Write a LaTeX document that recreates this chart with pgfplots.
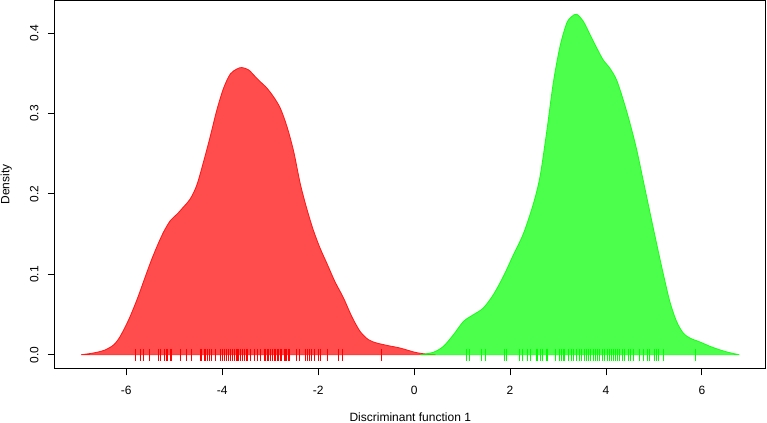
\documentclass[border=0pt]{standalone}
\usepackage{pgfplots}
\pgfplotsset{compat=1.18}
\usepackage{fontspec}
\setmainfont{Liberation Sans}
\begin{document}
\begin{tikzpicture}
\begin{axis}[name=ax,
  scale only axis, width=532.9pt, height=275.7pt,
  xmin=-7.485, xmax=7.325, ymin=-0.0169, ymax=0.4406,
  axis line style={line width=0.75pt, black},
  xtick={-6,-4,-2,0,2,4,6}, xticklabels={-6,-4,-2,0,2,4,6},
  ytick={0,0.1,0.2,0.3,0.4}, yticklabels={0.0,0.1,0.2,0.3,0.4},
  tick align=outside, major tick length=5.25pt,
  tick style={line width=0.75pt, black},
  xtick pos=left, ytick pos=left,
  font=\fontsize{9}{10}\selectfont,
  xticklabel style={yshift=-14.25pt, anchor=base},
  yticklabel style={xshift=-7.25pt, rotate=90, anchor=base},
  every axis x label/.style={at={(axis description cs:0.5,0)}, yshift=-39.8pt, anchor=base},
  every axis y label/.style={at={(axis description cs:0,0.5)}, xshift=-34.3pt, rotate=90, anchor=base},
  xlabel={Discriminant function 1}, ylabel={Density},
]
\addplot[smooth, draw=red, draw opacity=0.85, line width=0.6pt, fill=red, fill opacity=0.7] coordinates {
(-6.94,0) (-6.75,0.0015) (-6.60,0.0032) (-6.44,0.006) (-6.26,0.0124) (-6.125,0.023)
(-5.95,0.0435) (-5.78,0.068) (-5.64,0.091) (-5.50,0.114) (-5.36,0.1347) (-5.22,0.153)
(-5.08,0.167) (-4.94,0.175) (-4.81,0.1837) (-4.67,0.1936) (-4.53,0.211) (-4.39,0.240)
(-4.25,0.2715) (-4.11,0.305) (-3.97,0.332) (-3.83,0.3495) (-3.69,0.3557) (-3.59,0.3574)
(-3.45,0.3545) (-3.31,0.346) (-3.21,0.340) (-3.07,0.332) (-2.93,0.321) (-2.79,0.307)
(-2.65,0.284) (-2.51,0.253) (-2.375,0.2135) (-2.24,0.1825) (-2.10,0.155) (-1.96,0.1327)
(-1.82,0.114) (-1.65,0.091) (-1.47,0.0705) (-1.30,0.0477) (-1.125,0.029) (-0.95,0.0187)
(-0.78,0.0146) (-0.53,0.0112) (-0.29,0.0083) (0.0,0.0033) (0.16,0.0015) (0.30,0.0005) (0.45,0)
} \closedcycle;
\addplot[smooth, draw=green, draw opacity=0.85, line width=0.6pt, fill=green, fill opacity=0.7] coordinates {
(0.13,0) (0.40,0.003) (0.61,0.0104) (0.82,0.0249) (1.03,0.0415) (1.235,0.0498)
(1.44,0.058) (1.65,0.0746) (1.86,0.0974) (2.07,0.1244) (2.28,0.151) (2.49,0.1887)
(2.625,0.222) (2.76,0.276) (2.90,0.338) (3.04,0.3835) (3.18,0.4125) (3.285,0.4208)
(3.39,0.4237) (3.53,0.4146) (3.67,0.398) (3.81,0.3814) (3.94,0.367) (4.08,0.3566)
(4.22,0.342) (4.36,0.317) (4.50,0.288) (4.64,0.255) (4.78,0.2156) (4.92,0.176)
(5.06,0.1368) (5.19,0.1016) (5.33,0.0663) (5.47,0.0415) (5.61,0.027) (5.75,0.0207)
(5.96,0.0158) (6.17,0.0104) (6.375,0.006) (6.58,0.0025) (6.78,0)
} \closedcycle;
\addplot[only marks, mark=|, mark size=4.4pt, red, mark options={line width=0.7pt}] coordinates {
(-5.806,0) (-5.708,0) (-5.639,0) (-5.514,0) (-5.326,0) (-5.292,0) (-5.202,0) (-5.167,0)
(-5.131,0) (-5.083,0) (-5.048,0) (-4.860,0) (-4.750,0) (-4.632,0) (-4.458,0) (-4.423,0)
(-4.375,0) (-4.340,0) (-4.298,0) (-4.264,0) (-4.229,0) (-4.139,0) (-4.042,0) (-3.993,0)
(-3.951,0) (-3.903,0) (-3.868,0) (-3.819,0) (-3.792,0) (-3.750,0) (-3.708,0) (-3.681,0)
(-3.653,0) (-3.625,0) (-3.583,0) (-3.528,0) (-3.493,0) (-3.472,0) (-3.403,0) (-3.333,0)
(-3.264,0) (-3.208,0) (-3.125,0) (-3.097,0) (-3.056,0) (-3.028,0) (-2.986,0) (-2.958,0)
(-2.917,0) (-2.889,0) (-2.847,0) (-2.819,0) (-2.792,0) (-2.764,0) (-2.708,0) (-2.681,0)
(-2.653,0) (-2.625,0) (-2.597,0) (-2.451,0) (-2.382,0) (-2.264,0) (-2.222,0) (-2.181,0)
(-2.139,0) (-2.083,0) (-2.000,0) (-1.958,0) (-1.813,0) (-1.576,0) (-1.500,0) (-0.681,0)
};
\addplot[only marks, mark=|, mark size=4.4pt, green, mark options={line width=0.7pt}] coordinates {
(1.097,0) (1.146,0) (1.410,0) (1.479,0) (1.882,0) (1.931,0) (2.194,0) (2.257,0)
(2.361,0) (2.417,0) (2.542,0) (2.576,0) (2.625,0) (2.681,0) (2.750,0) (2.785,0)
(2.951,0) (3.035,0) (3.069,0) (3.104,0) (3.139,0) (3.208,0) (3.278,0) (3.312,0)
(3.382,0) (3.451,0) (3.486,0) (3.542,0) (3.590,0) (3.625,0) (3.681,0) (3.729,0)
(3.778,0) (3.819,0) (3.868,0) (3.917,0) (3.972,0) (4.028,0) (4.076,0) (4.111,0)
(4.146,0) (4.194,0) (4.236,0) (4.285,0) (4.333,0) (4.389,0) (4.458,0) (4.514,0)
(4.562,0) (4.701,0) (4.771,0) (4.861,0) (4.910,0) (5.014,0) (5.056,0) (5.097,0)
(5.194,0) (5.861,0)
};
\end{axis}
\pgfresetboundingbox
\path[use as bounding box] ([xshift=-41.25pt,yshift=-41pt]ax.south west) rectangle ([xshift=1.1pt,yshift=0.5pt]ax.north east);
\end{tikzpicture}
\end{document}
